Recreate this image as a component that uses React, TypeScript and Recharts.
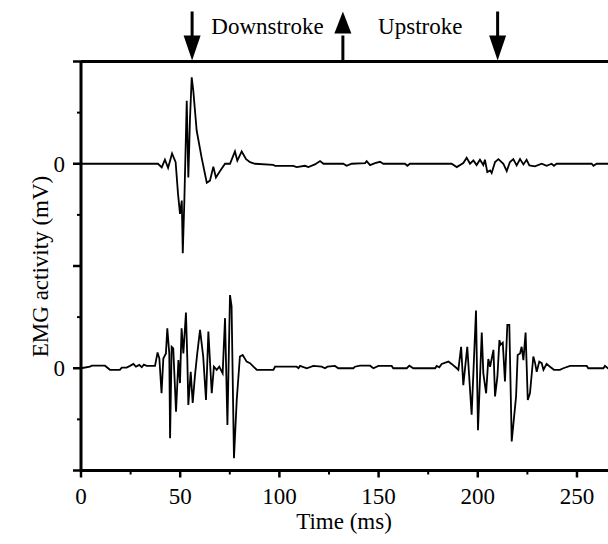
import React from 'react';
import { LineChart, Line, XAxis, YAxis, ReferenceLine, ReferenceDot, Label } from 'recharts';

// Top trace (offset to baseline 6), time in ms and EMG in axis units
const timeTop = [0, 34.8, 38.8, 40.7, 42.3, 43.9, 45.9, 47.7, 48.9, 49.9, 50.8, 51.3, 52.1, 53.3, 54.1, 54.6, 54.9, 55.8, 56.6, 58.3, 60.8, 63.4, 65.0, 66.7, 68.0, 70.1, 72.6, 75.1, 77.6, 78.8, 81.0, 83.2, 85.2, 87.7, 96.8, 97.8, 107.0, 108.7, 112.9, 114.6, 117.9, 120.5, 122.2, 132.2, 133.9, 136.4, 143.2, 144.0, 145.7, 148.2, 150.7, 152.4, 163.3, 164.5, 165.8, 186.8, 189.4, 192.7, 194.4, 196.1, 197.8, 199.4, 201.1, 202.8, 203.6, 204.8, 206.2, 207.0, 208.7, 210.4, 212.9, 214.6, 216.2, 217.9, 219.6, 221.3, 223.0, 224.6, 226.0, 228.8, 232.2, 234.7, 237.2, 238.4, 239.7, 257.4, 258.3, 259.9, 280];
const emgTop = [0, 0, 0, -0.07, 0.08, -0.08, 0.2, 0.03, -0.59, -0.98, -0.72, -1.75, -0.72, 1.23, -0.27, 0.39, 0.84, 1.69, 1.43, 0.65, 0.12, -0.37, -0.33, -0.06, -0.27, -0.14, 0, 0, 0.24, 0.06, 0.24, 0.09, 0.03, 0, -0.02, -0.04, -0.04, -0.065, -0.04, -0.065, -0.013, 0.052, 0, 0, -0.04, 0, 0.013, 0.052, -0.026, 0.013, 0.039, 0, 0, -0.04, 0, 0, -0.065, 0.013, 0.117, 0, 0.065, -0.026, 0.078, -0.026, 0.078, -0.163, -0.13, -0.183, 0.033, 0.091, 0, -0.143, 0.033, 0.091, -0.033, 0.091, -0.013, 0.078, -0.033, -0.052, 0, -0.04, 0, -0.04, 0, 0, -0.04, 0, 0];

// Bottom trace (offset to baseline 2)
const timeBottom = [0, 4.5, 5.4, 12.1, 14.6, 19.6, 20.5, 23.0, 24.7, 26.4, 27.7, 29.4, 30.6, 31.7, 33.1, 37.3, 38.6, 39.5, 40.6, 41.5, 42.8, 43.5, 44.5, 44.9, 45.7, 46.5, 47.9, 49.1, 49.9, 50.7, 51.6, 52.9, 53.6, 54.1, 55.3, 56.3, 57.4, 58.6, 60.0, 61.6, 63.0, 64.2, 65.9, 67.0, 68.4, 69.7, 71.4, 72.6, 73.8, 75.1, 75.9, 77.1, 78.5, 80.1, 81.5, 83.5, 85.2, 86.9, 88.6, 97.0, 97.8, 108.7, 109.6, 110.4, 113.8, 117.1, 121.3, 123.0, 124.2, 128.0, 129.7, 137.3, 138.1, 140.6, 145.7, 147.4, 149.9, 156.6, 157.4, 164.2, 165.5, 167.5, 178.5, 179.3, 180.6, 181.8, 185.2, 186.8, 189.4, 190.2, 191.6, 192.7, 194.7, 196.9, 199.1, 200.1, 202.0, 202.8, 204.2, 205.3, 206.2, 207.9, 208.7, 209.9, 210.9, 211.5, 212.6, 213.7, 214.9, 215.9, 217.1, 219.3, 220.1, 221.3, 222.1, 223.0, 224.1, 225.2, 226.3, 228.0, 228.9, 229.7, 231.0, 232.2, 233.1, 234.7, 236.4, 238.4, 241.4, 243.1, 246.5, 254.9, 255.7, 263.3, 264.1, 265.6, 280];
const emgBottom = [0, 0.03, 0.05, 0.05, -0.03, -0.03, 0.013, 0.013, 0.046, 0.085, 0.033, 0.065, 0.02, 0.072, 0.046, 0.046, 0.31, 0.19, -0.49, 0.19, 0.29, 0.78, 0.29, -1.37, 0.42, 0.39, -0.85, 0.16, -0.29, 0.78, 0.29, 1.09, 0.16, -0.72, -0.07, -0.68, -0.16, 0.29, 0.75, 0.23, -0.62, 0.72, -0.49, 0.03, -0.03, 0.03, -0.10, 0.98, -1.11, 1.43, 1.21, -1.76, -0.62, 0.23, 0.26, 0.13, 0.10, 0.03, -0.03, -0.03, 0.03, 0.03, 0, 0.046, 0, 0.046, 0.03, 0, 0.03, 0.046, 0, 0, 0.03, 0.05, 0.05, 0, 0.046, 0.046, 0, 0, 0.05, 0, 0, 0.046, 0.02, 0.085, 0.13, 0.085, 0, -0.03, 0.42, -0.33, 0.42, -0.91, 1.13, -1.21, 0.70, -0.10, -0.49, 0.18, 0.03, 0.36, -0.55, -0.16, 0.55, 0.46, 0.50, -0.26, 0.85, 0.85, -1.43, -0.55, 0.26, 0.29, 0.42, 0.16, 0.70, -0.62, -0.49, 0.23, 0.10, -0.07, 0.13, 0.10, -0.03, 0.085, 0.03, -0.03, -0.03, 0, 0.046, 0.046, 0, 0, 0.046, 0, 0];

const topBaseline = 6;
const bottomBaseline = 2;

const xTicks = [0, 25, 50, 75, 100, 125, 150, 175, 200, 225, 250, 275];
const xTickLabels = [0, 50, 100, 150, 200, 250];
const yTicks = [0, 1, 2, 3, 4, 5, 6, 7, 8];
const yZeroTicks = [2, 6];

const arrowTimes = [56, 132, 210];
const arrowDirections = ['down', 'up', 'down'];
const phaseNames = ['Downstroke', 'Upstroke'];

const xTitle = 'Time (ms)';
const yTitle = 'EMG activity (mV)';

const FONT = '"Liberation Serif", "Times New Roman", serif';
const FS = 23;

const topData = timeTop.map((t, i) => ({ t, v: emgTop[i] + topBaseline }));
const bottomData = timeBottom.map((t, i) => ({ t, v: emgBottom[i] + bottomBaseline }));

const YTick = (props: any) => {
  const { x, y, payload } = props;
  const v = payload.value;
  const major = v % 2 === 0;
  const len = major ? 8 : 4;
  return (
    <g>
      <line x1={x} y1={y} x2={x - len} y2={y} stroke="#000" strokeWidth={major ? 2.5 : 2} />
      {yZeroTicks.includes(v) && (
        <text x={x - 16} y={y} dy="0.34em" textAnchor="end" fontFamily={FONT} fontSize={FS} fill="#000">0</text>
      )}
    </g>
  );
};

const XTick = (props: any) => {
  const { x, y, payload } = props;
  const v = payload.value;
  const major = xTickLabels.includes(v);
  const len = major ? 7 : 4;
  return (
    <g>
      <line x1={x} y1={y} x2={x} y2={y + len} stroke="#000" strokeWidth={major ? 2.5 : 2} />
      {major && (
        <text x={x} y={y + 33} textAnchor="middle" fontFamily={FONT} fontSize={FS} fill="#000">{v}</text>
      )}
    </g>
  );
};

const Arrow = (dir: string) => (props: any) => {
  const { cx, cy } = props;
  if (dir === 'down') {
    return (
      <g>
        <line x1={cx} y1={cy - 50} x2={cx} y2={cy - 24} stroke="#000" strokeWidth={3} />
        <polygon points={`${cx - 8.5},${cy - 26} ${cx + 8.5},${cy - 26} ${cx},${cy - 1}`} fill="#000" />
      </g>
    );
  }
  return (
    <g>
      <line x1={cx} y1={cy} x2={cx} y2={cy - 26} stroke="#000" strokeWidth={3} />
      <polygon points={`${cx - 8.5},${cy - 28} ${cx + 8.5},${cy - 28} ${cx},${cy - 50}`} fill="#000" />
    </g>
  );
};

const PhaseText = (name: string) => (props: any) => {
  const { cx, cy } = props;
  return (
    <text x={cx} y={cy - 27.5} textAnchor="middle" fontFamily={FONT} fontSize={FS} fill="#000">{name}</text>
  );
};

export default function App() {
  return (
    <div style={{ position: 'absolute', left: 0, top: 0, width: 608, height: 544, overflow: 'hidden', background: '#fff' }}>
      <LineChart width={660} height={544} margin={{ top: 61.5, right: 23.5, bottom: 0, left: 0 }}>
        <XAxis
          type="number"
          dataKey="t"
          domain={[0, 280]}
          ticks={xTicks}
          interval={0}
          height={73.5}
          tickSize={0}
          tickMargin={0}
          axisLine={{ stroke: '#000', strokeWidth: 3 }}
          tickLine={false}
          tick={<XTick />}
        >
          <Label
            content={() => (
              <text x={344} y={529} textAnchor="middle" fontFamily={FONT} fontSize={FS} fill="#000">{xTitle}</text>
            )}
          />
        </XAxis>
        <YAxis
          type="number"
          domain={[0, 8]}
          ticks={yTicks}
          interval={0}
          width={81}
          tickSize={0}
          tickMargin={0}
          axisLine={{ stroke: '#000', strokeWidth: 3 }}
          tickLine={false}
          tick={<YTick />}
        >
          <Label
            content={() => (
              <text x={48} y={266.5} transform="rotate(-90 48 266.5)" textAnchor="middle" fontFamily={FONT} fontSize={FS} fill="#000">{yTitle}</text>
            )}
          />
        </YAxis>
        <ReferenceLine y={8} stroke="#000" strokeWidth={3} />
        <Line data={bottomData} dataKey="v" type="linear" stroke="#000" strokeWidth={1.8} dot={false} isAnimationActive={false} />
        <Line data={topData} dataKey="v" type="linear" stroke="#000" strokeWidth={1.8} dot={false} isAnimationActive={false} />
        {arrowTimes.map((t, i) => (
          <ReferenceDot key={'a' + i} x={t} y={8} r={0} ifOverflow="visible" shape={Arrow(arrowDirections[i])} />
        ))}
        {phaseNames.map((name, i) => (
          <ReferenceDot key={'p' + i} x={(arrowTimes[i] + arrowTimes[i + 1]) / 2} y={8} r={0} ifOverflow="visible" shape={PhaseText(name)} />
        ))}
      </LineChart>
    </div>
  );
}
